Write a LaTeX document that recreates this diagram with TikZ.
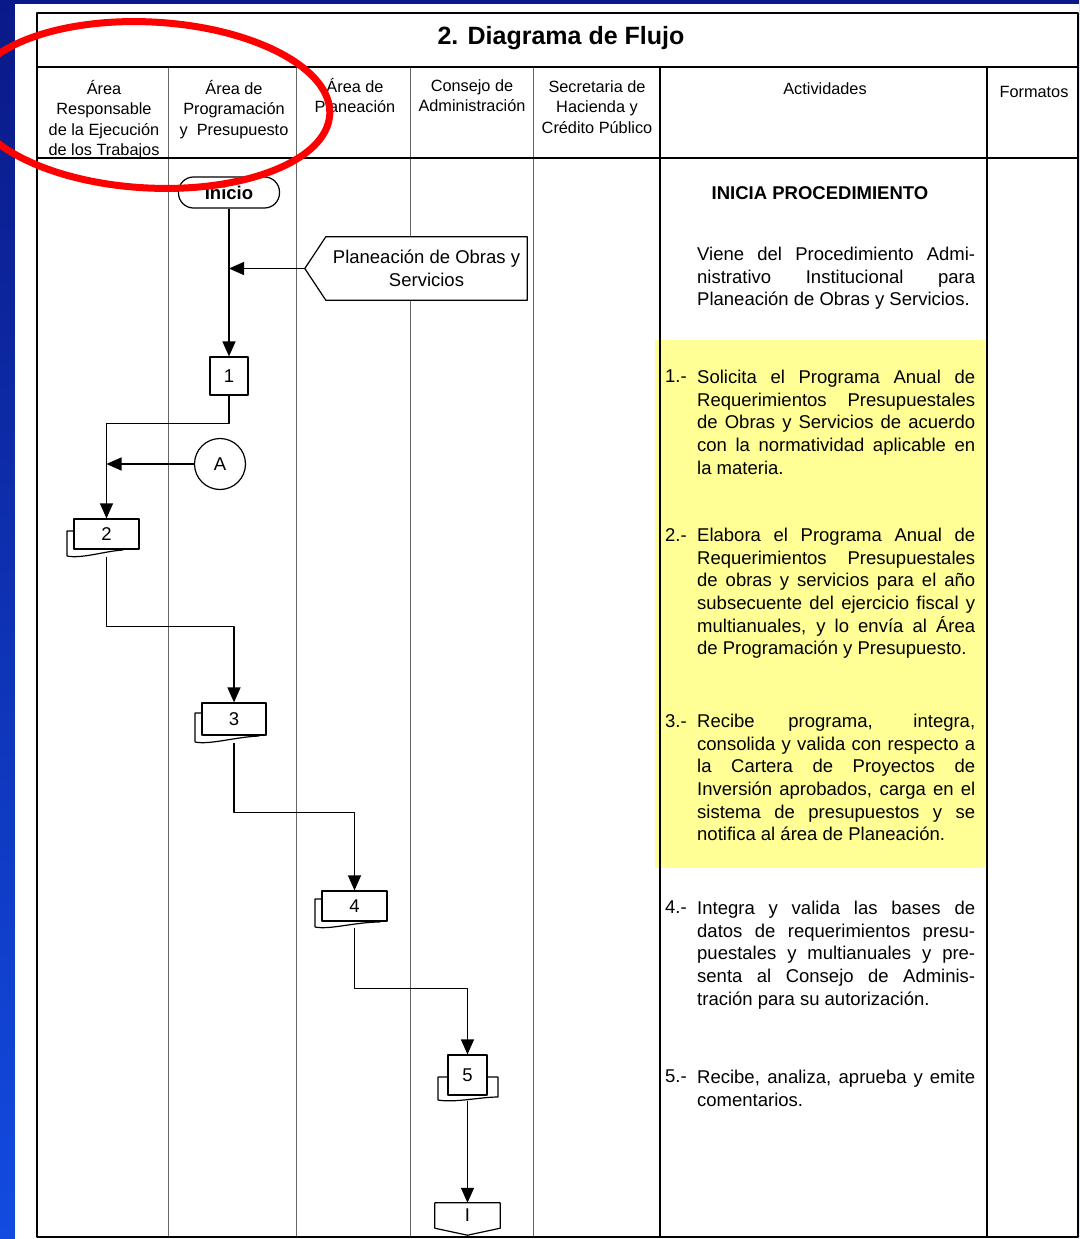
\documentclass[tikz,border=0pt]{standalone}
\usepackage{fontspec}
\setmainfont{Liberation Sans}
\usetikzlibrary{arrows.meta}

\definecolor{bluetop}{RGB}{10,25,135}
\definecolor{bluebot}{RGB}{18,75,225}
\definecolor{hilite}{RGB}{255,255,150}

\newcommand\hdfont{\fontsize{16.3}{20.5}\selectfont}
\newcommand\txfont{\fontsize{18.5}{22.6}\selectfont}

\tikzset{
  lane/.style={black!60, line width=0.9pt},
  flow/.style={line width=1.3pt, -{Triangle[length=15pt,width=13pt]}},
  hdr/.style={anchor=north, align=center, font=\hdfont, inner sep=0pt},
  stepbox/.style={draw, fill=white, line width=1.2pt, inner sep=0pt, font=\txfont},
  actnum/.style={anchor=north west, inner sep=0pt, font=\txfont},
  acttext/.style={anchor=north west, inner sep=0pt, font=\txfont, text width=278pt, align=justify},
}

\begin{document}
\begin{tikzpicture}[x=1pt, y=-1pt, line join=round]
  \useasboundingbox (0,0) rectangle (1079,1239);
  % slide background and page
  \shade[top color=bluetop, bottom color=bluebot] (0,0) rectangle (1079,1239);
  \fill[white] (15,4) rectangle (1079,1239);

  % highlighted activities
  \fill[hilite] (655,340) rectangle (985,868);

  % table
  \foreach \x in {168,296,410,533}
    \draw[lane] (\x,67) -- (\x,1237);
  \draw[line width=1.1pt] (660,67) -- (660,1237);
  \draw[line width=1.1pt] (987,67) -- (987,1237);
  \draw[line width=1.4pt] (37,67) -- (1078,67);
  \draw[line width=1.8pt] (37,158) -- (1078,158);
  \draw[line width=1.6pt] (37,13) rectangle (1078,1237);

  \node[font=\bfseries\fontsize{25}{30}\selectfont] (title) at (561,38) {2. Diagrama de Flujo};

  \node[hdr] (hresp) at (104,80) {Área\\Responsable\\de la Ejecución\\de los Trabajos};
  \node[hdr] (hprog) at (234,80) {Área de\\Programación\\y\ \ Presupuesto};
  \node[hdr] (hplan) at (355,78) {Área de\\Planeación};
  \node[hdr] (hcons) at (472,79) {Consejo de\\Administración};
  \node[hdr] (hshcp) at (597,80) {Secretaria de\\Hacienda y\\Crédito Público};
  \node[hdr] (hact) at (825,82) {Actividades};
  \node[hdr] (hfmt) at (1034,86) {Formatos};

  % flow nodes
  \node[stepbox, rounded corners=15pt, minimum width=101pt, minimum height=31pt,
        font=\bfseries\txfont] (inicio) at (229,192.5) {Inicio};

  \fill[white] (326,237) rectangle (527,300) (326,237) -- (305.5,268.5) -- (326,300);
  \node[inner sep=0pt, minimum width=201pt, minimum height=63pt, align=center,
        font=\txfont] (plan) at (426.5,268.5) {Planeación de Obras y\\Servicios};
  \draw[line width=1.2pt] (plan.north west) -- (plan.north east) -- (plan.south east)
    -- (plan.south west) -- ([xshift=-21pt]plan.west) -- cycle;
  \coordinate (plantip) at ([xshift=-21pt]plan.west);

  \node[stepbox, minimum width=38pt, minimum height=38pt] (p1) at (229,376) {1};

  \node[draw, circle, line width=1.2pt, minimum size=51pt, inner sep=0pt,
        font=\txfont] (conA) at (220,464) {A};

  \draw[line width=1.2pt, fill=white] (74,531) -- (67,531) -- (67,556)
    .. controls (82,559) and (105,551) .. (123,550) -- (123,549);
  \node[stepbox, minimum width=65pt, minimum height=30pt] (p2) at (106.5,534) {2};

  \draw[line width=1.2pt, fill=white] (202,713) -- (195,713) -- (195,742)
    .. controls (210,745) and (235,737) .. (259,736) -- (259,735);
  \node[stepbox, minimum width=64pt, minimum height=32pt] (p3) at (234,719) {3};

  \draw[line width=1.2pt, fill=white] (322,899) -- (315,899) -- (315,927)
    .. controls (330,930) and (355,922) .. (380,922) -- (380,921);
  \node[stepbox, minimum width=65pt, minimum height=30pt] (p4) at (354.5,906) {4};

  \draw[line width=1.2pt, fill=white] (448,1077) -- (438,1077) -- (438,1100)
    .. controls (455,1103) and (480,1097) .. (498,1097) -- (498,1077) -- (487,1077);
  \node[stepbox, minimum width=39pt, minimum height=40pt] (p5) at (467.5,1075) {5};

  \node[inner sep=0pt, minimum width=65pt, minimum height=25pt, font=\txfont]
    (offpg) at (467.5,1215.5) {I};
  \draw[line width=1.2pt] (offpg.north west) -- (offpg.north east) -- (offpg.south east)
    -- ([yshift=-7pt]offpg.south) -- (offpg.south west) -- cycle;

  % connectors
  \draw[flow] (inicio.south) -- (p1.north);
  \draw[flow] (plantip) -- (plantip -| inicio.south);
  \draw[flow] (p1.south) -- ++(0,28) -| (p2.north);
  \draw[flow] (conA.west) -- (conA.west -| p2.north);
  \draw[flow] (p2.south) ++(0,7) -- ++(0,70) -| (p3.north);
  \draw[flow] (p3.south) ++(0,7) -- ++(0,70) -| (p4.north);
  \draw[flow] (p4.south) ++(0,6) -- ++(0,61) -| (p5.north);
  \draw[flow] (p5.south) ++(0,5) -- (offpg.north);

  % activities
  \node[font=\bfseries\txfont] (inicia) at (820,193) {INICIA PROCEDIMIENTO};
  \node[acttext] (viene) at (697,247) {Viene del Procedimiento Admi-\linebreak
    nistrativo Institucional para\linebreak Planeación de Obras y Servicios.};

  \node[actnum] (n1) at (665,370) {1.-};
  \node[acttext] (a1) at (697,370) {Solicita el Programa Anual de\linebreak
    Requerimientos Presupuestales\linebreak de Obras y Servicios de acuerdo\linebreak
    con la normatividad aplicable en\linebreak la materia.};

  \node[actnum] (n2) at (665,528) {2.-};
  \node[acttext] (a2) at (697,528) {Elabora el Programa Anual de\linebreak
    Requerimientos Presupuestales\linebreak de obras y servicios para el año\linebreak
    subsecuente del ejercicio fiscal y\linebreak multianuales, y lo envía al Área\linebreak
    de Programación y Presupuesto.};

  \node[actnum] (n3) at (665,714) {3.-};
  \node[acttext] (a3) at (697,714) {Recibe programa, integra,\linebreak
    consolida y valida con respecto a\linebreak la Cartera de Proyectos de\linebreak
    Inversión aprobados, carga en el\linebreak sistema de presupuestos y se\linebreak
    notifica al área de Planeación.};

  \node[actnum] (n4) at (665,901) {4.-};
  \node[acttext] (a4) at (697,901) {Integra y valida las bases de\linebreak
    datos de requerimientos presu-\linebreak puestales y multianuales y pre-\linebreak
    senta al Consejo de Adminis-\linebreak tración\ para su autorización.};

  \node[actnum] (n5) at (665,1070) {5.-};
  \node[acttext] (a5) at (697,1070) {Recibe, analiza, aprueba y emite\linebreak
    comentarios.};

  % red mark round the first two lanes
  \draw[red, line width=7pt, rotate around={-3:(150,105)}]
    (150,105) ellipse [x radius=180, y radius=83];
\end{tikzpicture}
\end{document}
